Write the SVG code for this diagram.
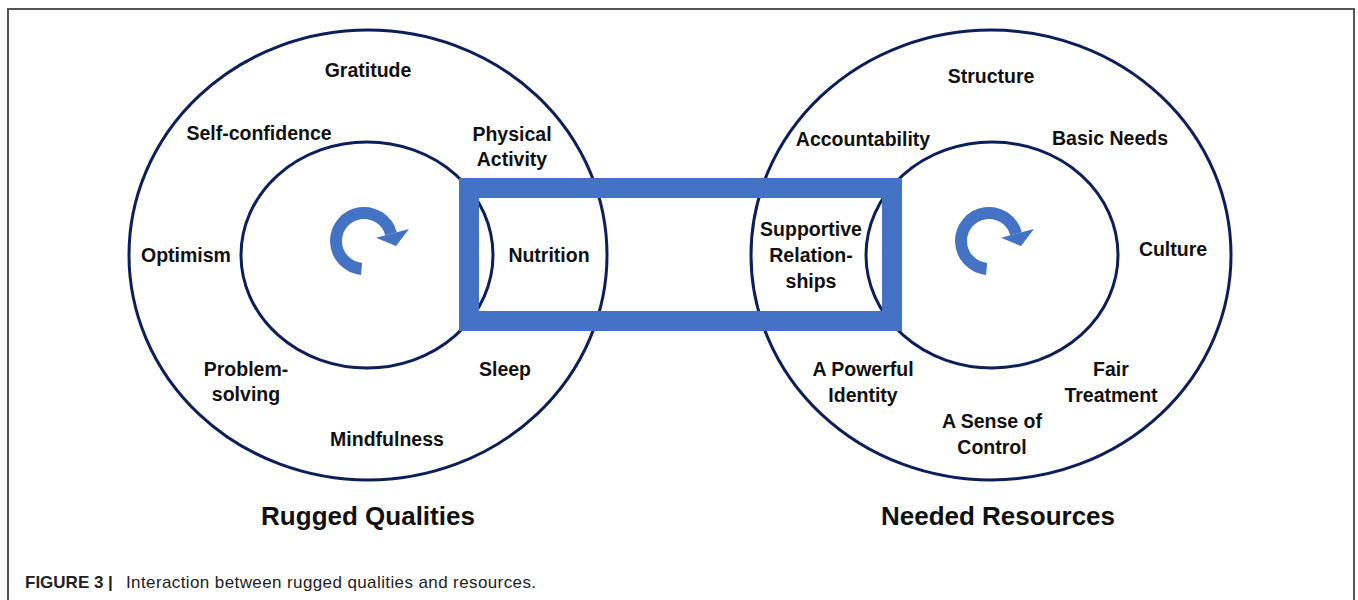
<svg xmlns="http://www.w3.org/2000/svg" width="1358" height="600" viewBox="0 0 1358 600">
  <style>
    .ring { fill: none; stroke: #0c1f5a; stroke-width: 3; }
    .lbl { font-family: "Liberation Sans", Arial, sans-serif; font-weight: bold; font-size: 19.5px; fill: #111; text-anchor: middle; }
    .title { font-family: "Liberation Sans", Arial, sans-serif; font-weight: bold; font-size: 26px; fill: #111; text-anchor: middle; }
    .cap { font-family: "Liberation Sans", Arial, sans-serif; font-size: 17px; fill: #222; }
    .arc { fill: none; stroke: #4472c4; stroke-width: 12; }
    .head { fill: #4472c4; }
  </style>
  <defs>
    <g id="cycle">
      <path class="arc" d="M361.6,268.9 A28,28 0 1,1 391.05,233.75"/>
      <polygon class="head" points="409,229 376,237.8 396,246"/>
    </g>
  </defs>
  <rect x="0" y="0" width="1358" height="600" fill="#fff"/>
  <path d="M8,620 V9 H1354 V620" fill="none" stroke="#555" stroke-width="2"/>

  <g id="rugged-qualities">
    <ellipse class="ring" cx="368" cy="255" rx="239" ry="225"/>
    <ellipse class="ring" cx="367" cy="255" rx="126" ry="113"/>
    <use href="#cycle"/>
    <text class="lbl" x="368" y="77">Gratitude</text>
    <text class="lbl" x="259" y="140">Self-confidence</text>
    <text class="lbl" x="512" y="141">Physical</text>
    <text class="lbl" x="512" y="166">Activity</text>
    <text class="lbl" x="186" y="262">Optimism</text>
    <text class="lbl" x="549" y="262">Nutrition</text>
    <text class="lbl" x="246" y="376">Problem-</text>
    <text class="lbl" x="246" y="401">solving</text>
    <text class="lbl" x="505" y="376">Sleep</text>
    <text class="lbl" x="387" y="446">Mindfulness</text>
    <text class="title" x="368" y="525">Rugged Qualities</text>
  </g>

  <g id="needed-resources">
    <ellipse class="ring" cx="991" cy="255" rx="240" ry="225"/>
    <ellipse class="ring" cx="992" cy="255" rx="126" ry="113"/>
    <use href="#cycle" transform="translate(625,0)"/>
    <text class="lbl" x="991" y="83">Structure</text>
    <text class="lbl" x="863" y="146">Accountability</text>
    <text class="lbl" x="1110" y="145">Basic Needs</text>
    <text class="lbl" x="811" y="236">Supportive</text>
    <text class="lbl" x="811" y="262">Relation-</text>
    <text class="lbl" x="811" y="288">ships</text>
    <text class="lbl" x="1173" y="256">Culture</text>
    <text class="lbl" x="863" y="376">A Powerful</text>
    <text class="lbl" x="863" y="402">Identity</text>
    <text class="lbl" x="1111" y="376">Fair</text>
    <text class="lbl" x="1111" y="402">Treatment</text>
    <text class="lbl" x="992" y="428">A Sense of</text>
    <text class="lbl" x="992" y="454">Control</text>
    <text class="title" x="998" y="525">Needed Resources</text>
  </g>

  <g id="connectors">
    <rect x="469" y="188" width="423" height="133" fill="none" stroke="#4472c4" stroke-width="20"/>
  </g>

  <g id="caption">
    <text class="cap" x="25" y="588"><tspan font-weight="bold">FIGURE 3 | </tspan><tspan x="126" textLength="410" lengthAdjust="spacing">Interaction between rugged qualities and resources.</tspan></text>
  </g>
</svg>
